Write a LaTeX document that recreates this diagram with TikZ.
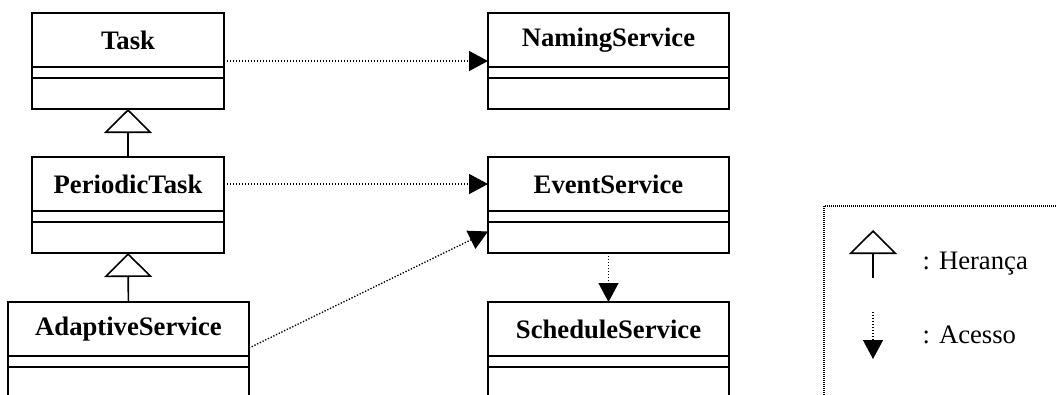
\documentclass[tikz,border=0pt]{standalone}
\usepackage{fontspec}
\setmainfont{Liberation Serif}
\usepackage{tikz}
\usetikzlibrary{arrows.meta,positioning,calc}

\begin{document}
\begin{tikzpicture}[x=0.75pt, y=-0.75pt,
	every node/.style={font=\fontsize{20pt}{24pt}\selectfont},
	part/.style={draw, line width=1.2pt, inner sep=0pt, outer sep=0pt},
	cls/.style={part, minimum height=40.5pt, anchor=north, font=\fontsize{20pt}{24pt}\selectfont\bfseries},
	attr/.style={part, minimum height=8.25pt, below=0pt of #1},
	ops/.style={part, minimum height=23.25pt, below=0pt of #1},
	narrow/.style={minimum width=144pt},
	wide/.style={minimum width=180.75pt},
	inherit/.style={line width=1.2pt, -{Triangle[open, length=18pt, width=36pt]}},
	access/.style={line width=1pt, dash pattern=on 1pt off 1.25pt, -{Triangle[length=14.25pt, width=15pt]}}]
	\useasboundingbox (0,0) rectangle (1056,394);
	\node[cls, narrow] (task) at (128,13) {Task};
	\node[attr=task, narrow] (task-attr) {};
	\node[ops=task-attr, narrow] (task-ops) {};
	\node[cls, narrow] (periodic) at (128,157) {PeriodicTask};
	\node[attr=periodic, narrow] (periodic-attr) {};
	\node[ops=periodic-attr, narrow] (periodic-ops) {};
	\node[cls, wide] (adaptive) at (128.5,302) {AdaptiveService};
	\node[attr=adaptive, wide] (adaptive-attr) {};
	\node[ops=adaptive-attr, wide] (adaptive-ops) {};
	\node[cls, wide] (naming) at (608.5,13) {NamingService};
	\node[attr=naming, wide] (naming-attr) {};
	\node[ops=naming-attr, wide] (naming-ops) {};
	\node[cls, wide] (event) at (608.5,157) {EventService};
	\node[attr=event, wide] (event-attr) {};
	\node[ops=event-attr, wide] (event-ops) {};
	\node[cls, wide] (schedule) at (608.5,302) {ScheduleService};
	\node[attr=schedule, wide] (schedule-attr) {};
	\node[ops=schedule-attr, wide] (schedule-ops) {};
	\draw[inherit] (periodic) -- (task-ops);
	\draw[inherit] (adaptive) -- (periodic-ops);
	\draw[access] ($(task.east)+(0,21)$) -- ($(naming.west)+(0,21)$);
	\draw[access] (periodic.east) -- (event.west);
	\draw[access] ($(adaptive.east)+(0,19)$) -- ($(event-ops.west)+(0,-6)$);
	\draw[access] (event-ops) -- (schedule);
	\draw[line width=1.5pt, dash pattern=on 0.75pt off 0.75pt] (1060,206) -- (824,206) -- (824,398);
	\coordinate (her-from) at (873,278);
	\coordinate (her-to) at (873,230);
	\draw[inherit] (her-from) -- (her-to);
	\node[anchor=base west] (heranca) at (918,269) {: Herança};
	\coordinate (ace-from) at (873,312);
	\coordinate (ace-to) at (873,359);
	\draw[access] (ace-from) -- (ace-to);
	\node[anchor=base west] (acesso) at (918,343) {: Acesso};
\end{tikzpicture}
\end{document}
